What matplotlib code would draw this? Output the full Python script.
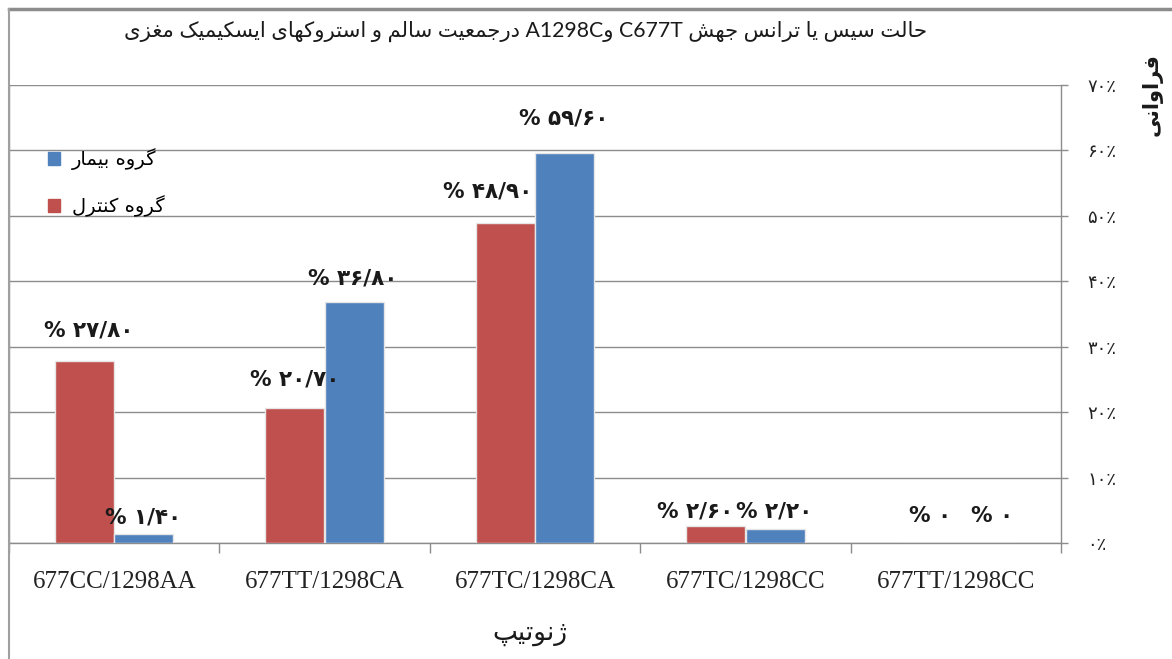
import re
import matplotlib
matplotlib.use("Agg")
import matplotlib.pyplot as plt
from matplotlib.lines import Line2D
from matplotlib.patches import Patch

genotypes = ["677CC/1298AA", "677TT/1298CA", "677TC/1298CA", "677TC/1298CC", "677TT/1298CC"]
control = [27.8, 20.7, 48.9, 2.6, 0.0]
patient = [1.4, 36.8, 59.6, 2.2, 0.0]
yticks = [0, 10, 20, 30, 40, 50, 60, 70]

title = "حالت سیس یا ترانس جهش C677T وA1298C درجمعیت سالم و استروکهای ایسکیمیک مغزی"
label_patient = "گروه بیمار"
label_control = "گروه کنترل"
ylabel = "فراوانی"
xlabel = "ژنوتیپ"

# label nudges in pixels (dx, dy above bar top)
ctrl_off = [(4, 31), (0, 28), (-18, 32), (-21, 14), (4, 27)]
pat_off = [(-1, 16), (-2, 24), (-1, 35), (-1, 17), (7, 27)]

# --- tiny arabic shaper (isolated, final, initial, medial) ---
FORMS = {
    "ا": (0xFE8D, 0xFE8E), "د": (0xFEA9, 0xFEAA), "ر": (0xFEAD, 0xFEAE),
    "ز": (0xFEAF, 0xFEB0), "ژ": (0xFB8A, 0xFB8B), "و": (0xFEED, 0xFEEE),
    "ب": (0xFE8F, 0xFE90, 0xFE91, 0xFE92), "پ": (0xFB56, 0xFB57, 0xFB58, 0xFB59),
    "ت": (0xFE95, 0xFE96, 0xFE97, 0xFE98), "ج": (0xFE9D, 0xFE9E, 0xFE9F, 0xFEA0),
    "ح": (0xFEA1, 0xFEA2, 0xFEA3, 0xFEA4), "س": (0xFEB1, 0xFEB2, 0xFEB3, 0xFEB4),
    "ش": (0xFEB5, 0xFEB6, 0xFEB7, 0xFEB8), "ع": (0xFEC9, 0xFECA, 0xFECB, 0xFECC),
    "غ": (0xFECD, 0xFECE, 0xFECF, 0xFED0), "ف": (0xFED1, 0xFED2, 0xFED3, 0xFED4),
    "ک": (0xFB8E, 0xFB8F, 0xFB90, 0xFB91), "گ": (0xFB92, 0xFB93, 0xFB94, 0xFB95),
    "ل": (0xFEDD, 0xFEDE, 0xFEDF, 0xFEE0), "م": (0xFEE1, 0xFEE2, 0xFEE3, 0xFEE4),
    "ن": (0xFEE5, 0xFEE6, 0xFEE7, 0xFEE8), "ه": (0xFEE9, 0xFEEA, 0xFEEB, 0xFEEC),
    "ی": (0xFBFC, 0xFBFD, 0xFBFE, 0xFBFF),
}


def shape(s):
    out = []
    for i, c in enumerate(s):
        if c not in FORMS:
            out.append(c)
            continue
        prev = s[i - 1] if i > 0 else ""
        nxt = s[i + 1] if i + 1 < len(s) else ""
        jp = prev in FORMS and len(FORMS[prev]) == 4
        jn = len(FORMS[c]) == 4 and nxt in FORMS
        f = FORMS[c]
        if jp and jn:
            out.append(chr(f[3]))
        elif jp:
            out.append(chr(f[1]))
        elif jn:
            out.append(chr(f[2]))
        else:
            out.append(chr(f[0]))
    return "".join(out)


def rtl(s):
    runs = re.split(r"([A-Za-z0-9]+)", shape(s))
    vis = [r if re.fullmatch(r"[A-Za-z0-9]+", r) else r[::-1] for r in runs]
    return "".join(vis[::-1])


FA_DIGITS = str.maketrans("0123456789.", "۰۱۲۳۴۵۶۷۸۹/")


def fa_pct(v):
    s = "0" if v == 0 else f"{v:.2f}"
    return "% " + s.translate(FA_DIGITS)


red = "#C0504D"
blue = "#4F81BD"
grid_c = "#8c8c8c"
ar = ["DejaVu Sans"]

fig = plt.figure(figsize=(11.72, 6.59), dpi=100)
ax = fig.add_axes([9 / 1172, 1 - 543 / 659, 1052 / 1172, 458 / 659])

x = list(range(len(genotypes)))
w = 0.28
bc = ax.bar([i - 0.141 for i in x], control, w, color=red, edgecolor="#e6e6e6", linewidth=1, zorder=3)
bp = ax.bar([i + 0.141 for i in x], patient, w, color=blue, edgecolor="#e6e6e6", linewidth=1, zorder=3)

for bars, vals, offs in [(bc, control, ctrl_off), (bp, patient, pat_off)]:
    for b, v, (dx, dy) in zip(bars, vals, offs):
        ax.annotate(fa_pct(v), (b.get_x() + b.get_width() / 2, v),
                    xytext=(dx * 0.72, dy * 0.72), textcoords="offset points",
                    ha="center", va="center", fontsize=15.5, fontweight="bold",
                    family=ar, color="#1a1a1a", zorder=4)

ax.set_xlim(-0.5, len(genotypes) - 0.5)
ax.set_ylim(0, 70)
ax.set_xticks(x)
ax.set_xticklabels(genotypes, family="Liberation Serif", fontsize=18, color="#222222")
ax.set_xticks([i - 0.5 for i in range(len(genotypes) + 1)], minor=True)
ax.tick_params(axis="x", which="major", length=0, pad=20)
ax.tick_params(axis="x", which="minor", length=7, width=1, color=grid_c, direction="out")

ax.yaxis.tick_right()
ax.set_yticks(yticks)
ax.set_yticklabels([f"{t}".translate(FA_DIGITS) + "٪" for t in yticks],
                   family=ar, fontsize=13, color="#222222")
ax.tick_params(axis="y", length=5, width=1, color=grid_c, pad=14)
ax.yaxis.grid(True, color=grid_c, linewidth=1)
ax.set_axisbelow(True)

ax.spines["top"].set_visible(False)
for sp in ["right", "bottom", "left"]:
    ax.spines[sp].set_color(grid_c)
    ax.spines[sp].set_linewidth(1)

handles = [Patch(color=blue), Patch(color=red)]
ax.legend(handles, [rtl(label_patient), rtl(label_control)], loc="upper left",
          bbox_to_anchor=(0.02, 0.9), frameon=False, handlelength=0.65, handleheight=0.65,
          handletextpad=0.6, labelspacing=1.3, prop={"family": ar, "size": 14})

fig.text(526 / 1172, 1 - 31 / 659, rtl(title), ha="center", va="center",
         fontsize=15.3, family=["Lato", "DejaVu Sans"], color="#1a1a1a")
fig.text(1152 / 1172, 1 - 95 / 659, rtl(ylabel), ha="center", va="center",
         rotation=90, fontsize=15, fontweight="bold", family=ar, color="#1a1a1a")
fig.text(530 / 1172, 1 - 633 / 659, rtl(xlabel), ha="center", va="center",
         fontsize=19, family=ar, color="#1a1a1a")

# outer chart border (top and left are visible in the crop)
fig.add_artist(Line2D([9 / 1172, 1], [1 - 9 / 659] * 2, color="#8c8c8c", linewidth=2.5))
fig.add_artist(Line2D([9 / 1172] * 2, [0, 1 - 9 / 659], color="#a0a0a0", linewidth=1.5))

fig.savefig("out.png", dpi=100)
